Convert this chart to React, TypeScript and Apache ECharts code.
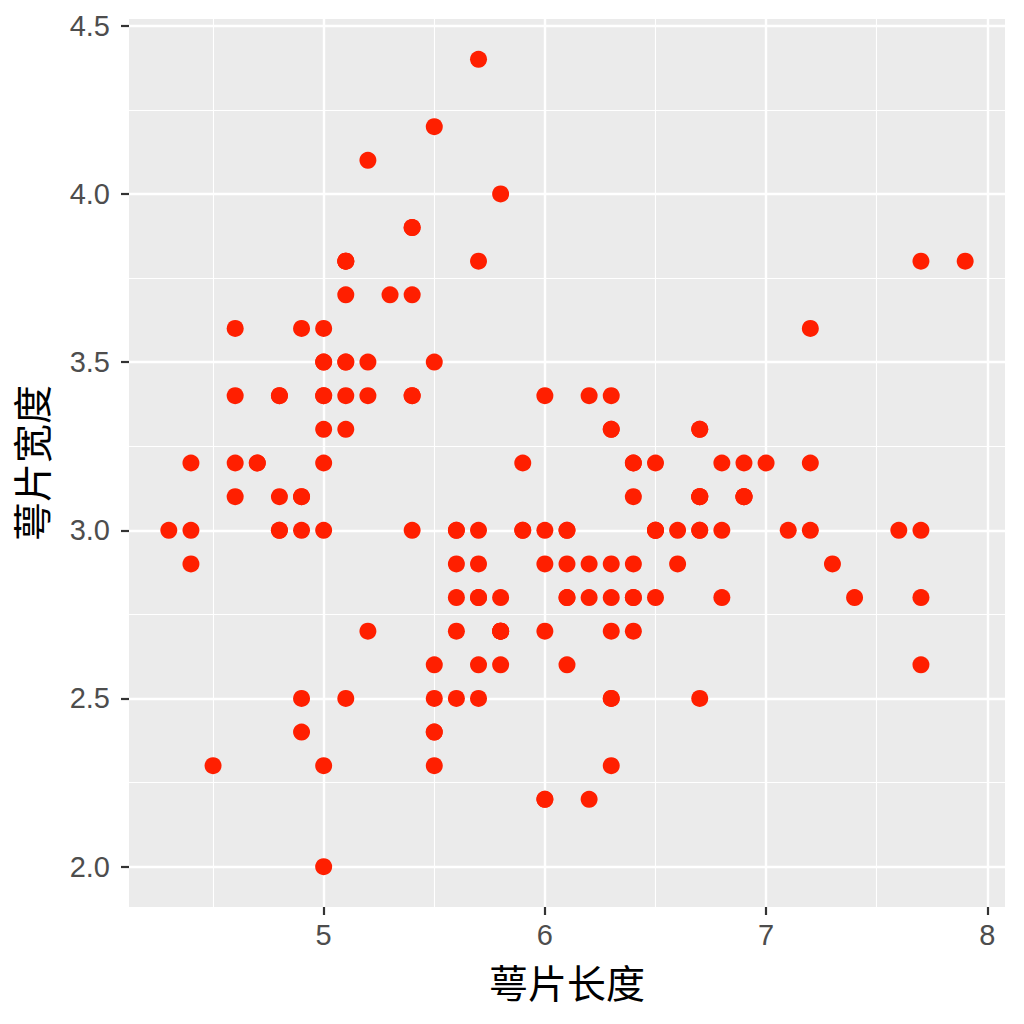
import React, { useEffect, useRef } from "react";
import * as echarts from "echarts";

const sepalLength = [
  5.1, 4.9, 4.7, 4.6, 5.0, 5.4, 4.6, 5.0, 4.4, 4.9, 5.4, 4.8, 4.8, 4.3, 5.8, 5.7, 5.4, 5.1, 5.7, 5.1,
  5.4, 5.1, 4.6, 5.1, 4.8, 5.0, 5.0, 5.2, 5.2, 4.7, 4.8, 5.4, 5.2, 5.5, 4.9, 5.0, 5.5, 4.9, 4.4, 5.1,
  5.0, 4.5, 4.4, 5.0, 5.1, 4.8, 5.1, 4.6, 5.3, 5.0, 7.0, 6.4, 6.9, 5.5, 6.5, 5.7, 6.3, 4.9, 6.6, 5.2,
  5.0, 5.9, 6.0, 6.1, 5.6, 6.7, 5.6, 5.8, 6.2, 5.6, 5.9, 6.1, 6.3, 6.1, 6.4, 6.6, 6.8, 6.7, 6.0, 5.7,
  5.5, 5.5, 5.8, 6.0, 5.4, 6.0, 6.7, 6.3, 5.6, 5.5, 5.5, 6.1, 5.8, 5.0, 5.6, 5.7, 5.7, 6.2, 5.1, 5.7,
  6.3, 5.8, 7.1, 6.3, 6.5, 7.6, 4.9, 7.3, 6.7, 7.2, 6.5, 6.4, 6.8, 5.7, 5.8, 6.4, 6.5, 7.7, 7.7, 6.0,
  6.9, 5.6, 7.7, 6.3, 6.7, 7.2, 6.2, 6.1, 6.4, 7.2, 7.4, 7.9, 6.4, 6.3, 6.1, 7.7, 6.3, 6.4, 6.0, 6.9,
  6.7, 6.9, 5.8, 6.8, 6.7, 6.7, 6.3, 6.5, 6.2, 5.9,
];
const sepalWidth = [
  3.5, 3.0, 3.2, 3.1, 3.6, 3.9, 3.4, 3.4, 2.9, 3.1, 3.7, 3.4, 3.0, 3.0, 4.0, 4.4, 3.9, 3.5, 3.8, 3.8,
  3.4, 3.7, 3.6, 3.3, 3.4, 3.0, 3.4, 3.5, 3.4, 3.2, 3.1, 3.4, 4.1, 4.2, 3.1, 3.2, 3.5, 3.6, 3.0, 3.4,
  3.5, 2.3, 3.2, 3.5, 3.8, 3.0, 3.8, 3.2, 3.7, 3.3, 3.2, 3.2, 3.1, 2.3, 2.8, 2.8, 3.3, 2.4, 2.9, 2.7,
  2.0, 3.0, 2.2, 2.9, 2.9, 3.1, 3.0, 2.7, 2.2, 2.5, 3.2, 2.8, 2.5, 2.8, 2.9, 3.0, 2.8, 3.0, 2.9, 2.6,
  2.4, 2.4, 2.7, 2.7, 3.0, 3.4, 3.1, 2.3, 3.0, 2.5, 2.6, 3.0, 2.6, 2.3, 2.7, 3.0, 2.9, 2.9, 2.5, 2.8,
  3.3, 2.7, 3.0, 2.9, 3.0, 3.0, 2.5, 2.9, 2.5, 3.6, 3.2, 2.7, 3.0, 2.5, 2.8, 3.2, 3.0, 3.8, 2.6, 2.2,
  3.2, 2.8, 2.8, 2.7, 3.3, 3.2, 2.8, 3.0, 2.8, 3.0, 2.8, 3.8, 2.8, 2.8, 2.6, 3.0, 3.4, 3.1, 3.0, 3.1,
  3.1, 3.1, 2.7, 3.2, 3.3, 3.0, 2.5, 3.0, 3.4, 3.0,
];

const xMajorTicks = [5, 6, 7, 8];
const xMinorTicks = [4.5, 5.5, 6.5, 7.5];
const yMajorTicks = [2.0, 2.5, 3.0, 3.5, 4.0, 4.5];
const yMinorTicks = [2.25, 2.75, 3.25, 3.75, 4.25];

const xTitle = "萼片长度";
const yTitle = "萼片宽度";

export default function App() {
  const ref = useRef<HTMLDivElement>(null);
  useEffect(() => {
    if (!ref.current) return;
    const chart = echarts.init(ref.current, undefined, { renderer: "svg" });
    const points = sepalLength.map((x, i) => [x, sepalWidth[i]]);
    const minor = { color: "#ffffff", width: 1.1, type: "solid" };
    const major = { color: "#ffffff", width: 2.4, type: "solid" };
    const gridLines: any[] = [
      ...xMinorTicks.map((v) => ({ xAxis: v, lineStyle: minor })),
      ...yMinorTicks.map((v) => ({ yAxis: v, lineStyle: minor })),
      ...xMajorTicks.map((v) => ({ xAxis: v, lineStyle: major })),
      ...yMajorTicks.map((v) => ({ yAxis: v, lineStyle: major })),
    ];
    const font = "'Liberation Sans', Arial, sans-serif";
    const cjk = "'Noto Sans CJK SC', sans-serif";
    chart.setOption({
      animation: false,
      grid: {
        left: 129,
        right: 19,
        top: 19,
        bottom: 117,
        show: true,
        backgroundColor: "#EBEBEB",
        borderWidth: 0,
      },
      xAxis: {
        type: "value",
        min: 4.12,
        max: 8.08,
        axisLine: { show: false },
        splitLine: { show: false },
        axisTick: {
          show: true,
          customValues: xMajorTicks,
          length: 8,
          lineStyle: { color: "#333333", width: 2.2 },
        },
        axisLabel: {
          customValues: xMajorTicks,
          color: "#4D4D4D",
          fontSize: 29,
          fontFamily: font,
          margin: 13,
          formatter: (v: number) => String(v),
        },
        name: xTitle,
        nameLocation: "middle",
        nameGap: 54,
        nameTextStyle: { color: "#000000", fontSize: 39, fontFamily: cjk },
      },
      yAxis: {
        type: "value",
        min: 1.88,
        max: 4.52,
        axisLine: { show: false },
        splitLine: { show: false },
        axisTick: {
          show: true,
          customValues: yMajorTicks,
          length: 8,
          lineStyle: { color: "#333333", width: 2.2 },
        },
        axisLabel: {
          customValues: yMajorTicks,
          color: "#4D4D4D",
          fontSize: 29,
          fontFamily: font,
          margin: 19,
          formatter: (v: number) => v.toFixed(1),
        },
        name: yTitle,
        nameLocation: "middle",
        nameGap: 80,
        nameTextStyle: { color: "#000000", fontSize: 39, fontFamily: cjk },
      },
      series: [
        {
          type: "scatter",
          data: points,
          symbol: "circle",
          symbolSize: 17,
          z: 2,
          itemStyle: { color: "#FF1F00", borderWidth: 0, opacity: 1 },
          markLine: {
            silent: true,
            z: 1,
            symbol: "none",
            animation: false,
            label: { show: false },
            emphasis: { disabled: true },
            data: gridLines,
          },
        },
      ],
    });
    return () => chart.dispose();
  }, []);
  return (
    <div
      ref={ref}
      style={{ position: "fixed", left: 0, top: 0, width: 1024, height: 1024, background: "#ffffff" }}
    />
  );
}
